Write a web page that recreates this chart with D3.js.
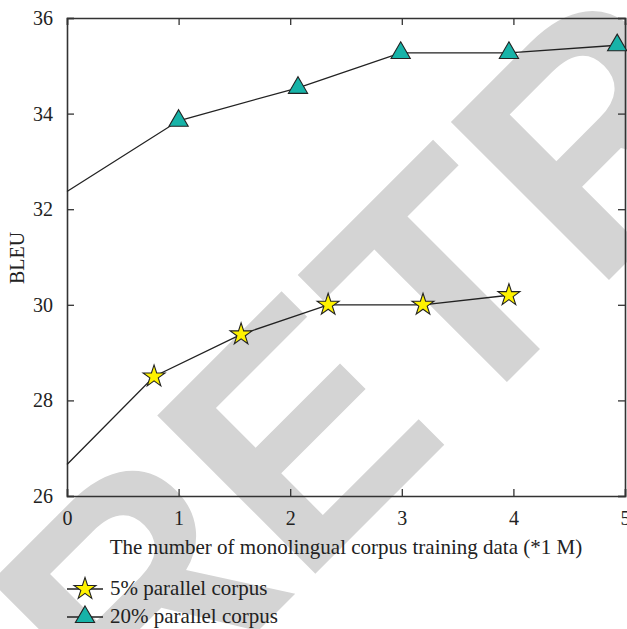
<!DOCTYPE html>
<html>
<head>
<meta charset="utf-8">
<script src="https://cdn.jsdelivr.net/npm/d3@7"></script>
<style>
  body { margin: 0; background: #fff; }
  text { font-family: "Liberation Serif", "DejaVu Serif", serif; }
</style>
</head>
<body>
<div class="chart"></div>
<script>
// values
const seriesNames = ['5% parallel corpus', '20% parallel corpus']
const x5 = [0, 0.78, 1.56, 2.34, 3.19, 3.96]
const y5 = [26.66, 28.5, 29.38, 30.0, 30.0, 30.2]
const x20 = [0, 1.0, 2.07, 2.99, 3.96, 4.93]
const y20 = [32.37, 33.85, 34.54, 35.27, 35.27, 35.43]
const xTicks = [0, 1, 2, 3, 4, 5]
const yTicks = [26, 28, 30, 32, 34, 36]

const serif = '"Liberation Serif", "DejaVu Serif", serif'

function drawChart() {
    const dimensions = {
        width: 627,
        height: 629,
        margin: { top: 18, bottom: 133, right: 2, left: 67 }
    }
    const innerW = dimensions.width - dimensions.margin.left - dimensions.margin.right
    const innerH = dimensions.height - dimensions.margin.top - dimensions.margin.bottom

    const svg = d3.select('.chart')
        .append('svg')
        .attr('width', dimensions.width)
        .attr('height', dimensions.height)

    // grey watermark sits under everything else
    svg.append('text')
        .attr('transform', 'translate(134, 755) rotate(-45)')
        .style('font-family', '"Liberation Sans", Arial, sans-serif')
        .attr('font-weight', 'bold')
        .attr('font-size', 325)
        .attr('fill', '#d4d4d4')
        .text('RETRACTED')

    const xScale = d3.scaleLinear().domain([0, 5]).range([0, innerW])
    const yScale = d3.scaleLinear().domain([26, 36]).range([innerH, 0])

    const container = svg.append('g')
        .attr('transform', `translate(${dimensions.margin.left}, ${dimensions.margin.top})`)

    const tickLen = 7
    const axisColor = '#333'

    // axes with inward ticks on all four sides
    const bottom = container.append('g')
        .attr('transform', `translate(0, ${innerH})`)
        .call(d3.axisBottom(xScale).tickValues(xTicks).tickSize(-tickLen).tickPadding(tickLen + 8).tickFormat(d3.format('d')))
    const top = container.append('g')
        .call(d3.axisTop(xScale).tickValues(xTicks).tickSize(-tickLen).tickFormat(''))
    const left = container.append('g')
        .call(d3.axisLeft(yScale).tickValues(yTicks).tickSize(-tickLen).tickPadding(tickLen + 7).tickFormat(d3.format('d')))
    const right = container.append('g')
        .attr('transform', `translate(${innerW}, 0)`)
        .call(d3.axisRight(yScale).tickValues(yTicks).tickSize(-tickLen).tickFormat(''))

    ;[bottom, top, left, right].forEach(g => {
        g.select('.domain').attr('stroke', axisColor).attr('stroke-width', 1.6)
        g.selectAll('.tick line').attr('stroke', axisColor).attr('stroke-width', 1.3)
        g.selectAll('.tick text')
            .attr('fill', '#222')
            .attr('font-size', 20)
            .style('font-family', serif)
    })
    bottom.selectAll('.tick text').attr('dy', '0.71em')

    const line = d3.line()
        .x(d => xScale(d[0]))
        .y(d => yScale(d[1]))

    const data5 = d3.zip(x5, y5)
    const data20 = d3.zip(x20, y20)

    const starPath = d3.symbol().type(d3.symbolStar).size(150)
    const triPath = d3.symbol().type(d3.symbolTriangle).size(160)

    const series = [
        { name: seriesNames[0], data: data5, shape: starPath, fill: '#fff200' },
        { name: seriesNames[1], data: data20, shape: triPath, fill: '#17b3a8' }
    ]

    series.forEach(s => {
        container.append('path')
            .datum(s.data)
            .attr('d', line)
            .attr('fill', 'none')
            .attr('stroke', '#222')
            .attr('stroke-width', 1.3)

        container.selectAll(null)
            .data(s.data.slice(1))
            .join('path')
            .attr('transform', d => `translate(${xScale(d[0])}, ${yScale(d[1])})`)
            .attr('d', s.shape)
            .attr('fill', s.fill)
            .attr('stroke', '#222')
            .attr('stroke-width', 1.1)
    })

    // axis titles
    svg.append('text')
        .attr('x', 346)
        .attr('y', 554)
        .attr('text-anchor', 'middle')
        .attr('font-size', 21)
        .style('font-family', serif)
        .attr('fill', '#222')
        .text('The number of monolingual corpus training data (*1 M)')

    svg.append('text')
        .attr('transform', 'translate(24, 258) rotate(-90)')
        .attr('text-anchor', 'middle')
        .attr('font-size', 20)
        .style('font-family', serif)
        .attr('fill', '#222')
        .text('BLEU')

    // legend
    const legend = svg.append('g')
    const legendRows = legend.selectAll('g')
        .data(series)
        .join('g')
        .attr('transform', (d, i) => `translate(67, ${589 + i * 28})`)

    legendRows.append('line')
        .attr('x1', 0).attr('x2', 36)
        .attr('stroke', '#222')
        .attr('stroke-width', 1.3)
    legendRows.append('path')
        .attr('transform', 'translate(18, 0)')
        .attr('d', d => d.shape())
        .attr('fill', d => d.fill)
        .attr('stroke', '#222')
        .attr('stroke-width', 1.1)
    legendRows.append('text')
        .attr('x', 43)
        .attr('y', 6)
        .attr('font-size', 21)
        .style('font-family', serif)
        .attr('fill', '#222')
        .text(d => d.name)
}

drawChart()
</script>
</body>
</html>
